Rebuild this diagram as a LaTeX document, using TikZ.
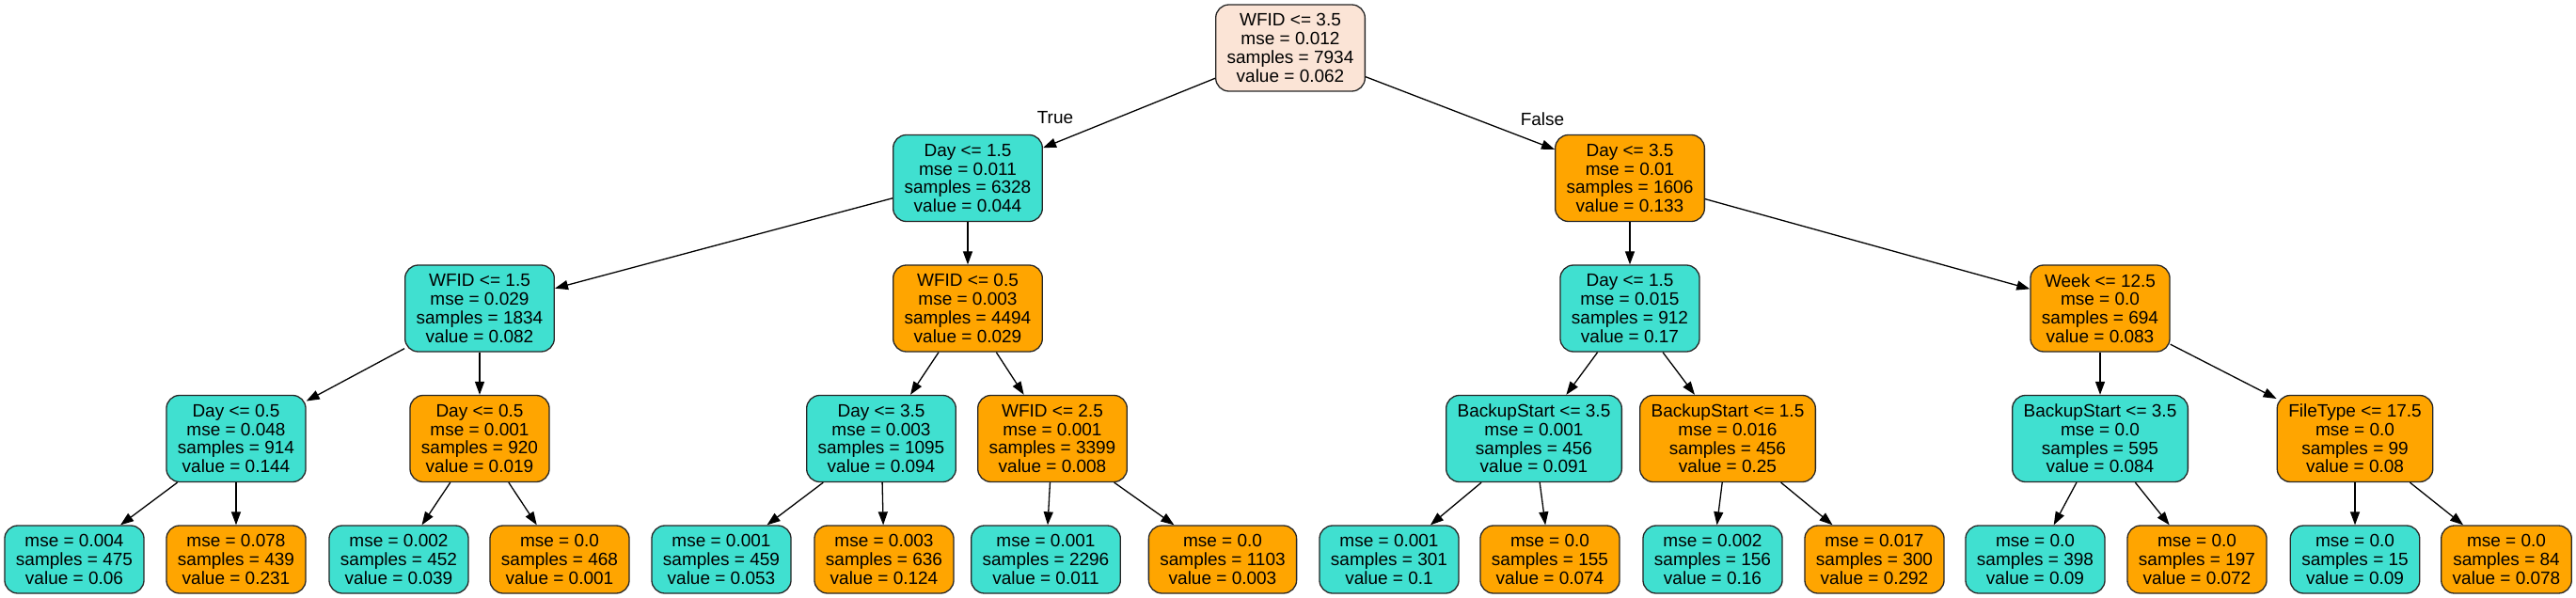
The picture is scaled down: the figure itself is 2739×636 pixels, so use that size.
\documentclass[tikz,border=0pt]{standalone}
\usepackage{fontspec}
\setmainfont{Liberation Sans}
\usetikzlibrary{arrows.meta}
\definecolor{turq}{RGB}{64,224,208}
\definecolor{orng}{RGB}{255,165,0}
\definecolor{peach}{RGB}{251,228,214}

\begin{document}
\begin{tikzpicture}[x=1pt, y=-1pt, line width=1.3pt,
  box/.style={draw=black!85, rounded corners=14pt, align=center,
    inner xsep=12pt, inner ysep=0pt, font=\fontsize{19}{19.8}\selectfont},
  split/.style={box, minimum height=92pt},
  leaf/.style={box, minimum height=72pt},
  tq/.style={fill=turq}, og/.style={fill=orng},
  lbl/.style={font=\fontsize{19}{19.8}\selectfont},
  edge/.style={-{Triangle[length=14pt,width=10pt]}}]
  \useasboundingbox (0,0) rectangle (2739,636);
  % split nodes
  \node[split, fill=peach] (root) at (1372,51) {WFID <= 3.5\\mse = 0.012\\samples = 7934\\value = 0.062};
  \node[split, tq] (dayA) at (1029,189.5) {Day <= 1.5\\mse = 0.011\\samples = 6328\\value = 0.044};
  \node[split, og] (dayB) at (1733,189.5) {Day <= 3.5\\mse = 0.01\\samples = 1606\\value = 0.133};
  \node[split, tq] (wfidA) at (510,328) {WFID <= 1.5\\mse = 0.029\\samples = 1834\\value = 0.082};
  \node[split, og] (wfidB) at (1029,328) {WFID <= 0.5\\mse = 0.003\\samples = 4494\\value = 0.029};
  \node[split, tq] (dayC) at (1733,328) {Day <= 1.5\\mse = 0.015\\samples = 912\\value = 0.17};
  \node[split, og] (week) at (2233,328) {Week <= 12.5\\mse = 0.0\\samples = 694\\value = 0.083};
  \node[split, tq] (dayD) at (251,466.5) {Day <= 0.5\\mse = 0.048\\samples = 914\\value = 0.144};
  \node[split, og] (dayE) at (510,466.5) {Day <= 0.5\\mse = 0.001\\samples = 920\\value = 0.019};
  \node[split, tq] (dayF) at (937,466.5) {Day <= 3.5\\mse = 0.003\\samples = 1095\\value = 0.094};
  \node[split, og] (wfidC) at (1119,466.5) {WFID <= 2.5\\mse = 0.001\\samples = 3399\\value = 0.008};
  \node[split, tq] (bsA) at (1631,466.5) {BackupStart <= 3.5\\mse = 0.001\\samples = 456\\value = 0.091};
  \node[split, og] (bsB) at (1837,466.5) {BackupStart <= 1.5\\mse = 0.016\\samples = 456\\value = 0.25};
  \node[split, tq] (bsC) at (2233,466.5) {BackupStart <= 3.5\\mse = 0.0\\samples = 595\\value = 0.084};
  \node[split, og] (ftype) at (2504,466.5) {FileType <= 17.5\\mse = 0.0\\samples = 99\\value = 0.08};
  % leaves
  \node[leaf, tq] (l1) at (79,595) {mse = 0.004\\samples = 475\\value = 0.06};
  \node[leaf, og] (l2) at (251,595) {mse = 0.078\\samples = 439\\value = 0.231};
  \node[leaf, tq] (l3) at (424,595) {mse = 0.002\\samples = 452\\value = 0.039};
  \node[leaf, og] (l4) at (595,595) {mse = 0.0\\samples = 468\\value = 0.001};
  \node[leaf, tq] (l5) at (767,595) {mse = 0.001\\samples = 459\\value = 0.053};
  \node[leaf, og] (l6) at (940,595) {mse = 0.003\\samples = 636\\value = 0.124};
  \node[leaf, tq] (l7) at (1112,595) {mse = 0.001\\samples = 2296\\value = 0.011};
  \node[leaf, og] (l8) at (1300,595) {mse = 0.0\\samples = 1103\\value = 0.003};
  \node[leaf, tq] (l9) at (1477,595) {mse = 0.001\\samples = 301\\value = 0.1};
  \node[leaf, og] (l10) at (1648,595) {mse = 0.0\\samples = 155\\value = 0.074};
  \node[leaf, tq] (l11) at (1821,595) {mse = 0.002\\samples = 156\\value = 0.16};
  \node[leaf, og] (l12) at (1993,595) {mse = 0.017\\samples = 300\\value = 0.292};
  \node[leaf, tq] (l13) at (2164,595) {mse = 0.0\\samples = 398\\value = 0.09};
  \node[leaf, og] (l14) at (2336,595) {mse = 0.0\\samples = 197\\value = 0.072};
  \node[leaf, tq] (l15) at (2504,595) {mse = 0.0\\samples = 15\\value = 0.09};
  \node[leaf, og] (l16) at (2665,595) {mse = 0.0\\samples = 84\\value = 0.078};
  % edges
  \draw[edge] (root) -- (dayA);
  \draw[edge] (root) -- (dayB);
  \node[lbl] (ltrue) at (1122,125) {True};
  \node[lbl] (lfalse) at (1640,127) {False};
  \draw[edge] (dayA) -- (wfidA);
  \draw[edge] (dayA) -- (wfidB);
  \draw[edge] (dayB) -- (dayC);
  \draw[edge] (dayB) -- (week);
  \draw[edge] (wfidA) -- (dayD);
  \draw[edge] (wfidA) -- (dayE);
  \draw[edge] (wfidB) -- (dayF);
  \draw[edge] (wfidB) -- (wfidC);
  \draw[edge] (dayC) -- (bsA);
  \draw[edge] (dayC) -- (bsB);
  \draw[edge] (week) -- (bsC);
  \draw[edge] (week) -- (ftype);
  \draw[edge] (dayD) -- (l1);
  \draw[edge] (dayD) -- (l2);
  \draw[edge] (dayE) -- (l3);
  \draw[edge] (dayE) -- (l4);
  \draw[edge] (dayF) -- (l5);
  \draw[edge] (dayF) -- (l6);
  \draw[edge] (wfidC) -- (l7);
  \draw[edge] (wfidC) -- (l8);
  \draw[edge] (bsA) -- (l9);
  \draw[edge] (bsA) -- (l10);
  \draw[edge] (bsB) -- (l11);
  \draw[edge] (bsB) -- (l12);
  \draw[edge] (bsC) -- (l13);
  \draw[edge] (bsC) -- (l14);
  \draw[edge] (ftype) -- (l15);
  \draw[edge] (ftype) -- (l16);
\end{tikzpicture}
\end{document}
